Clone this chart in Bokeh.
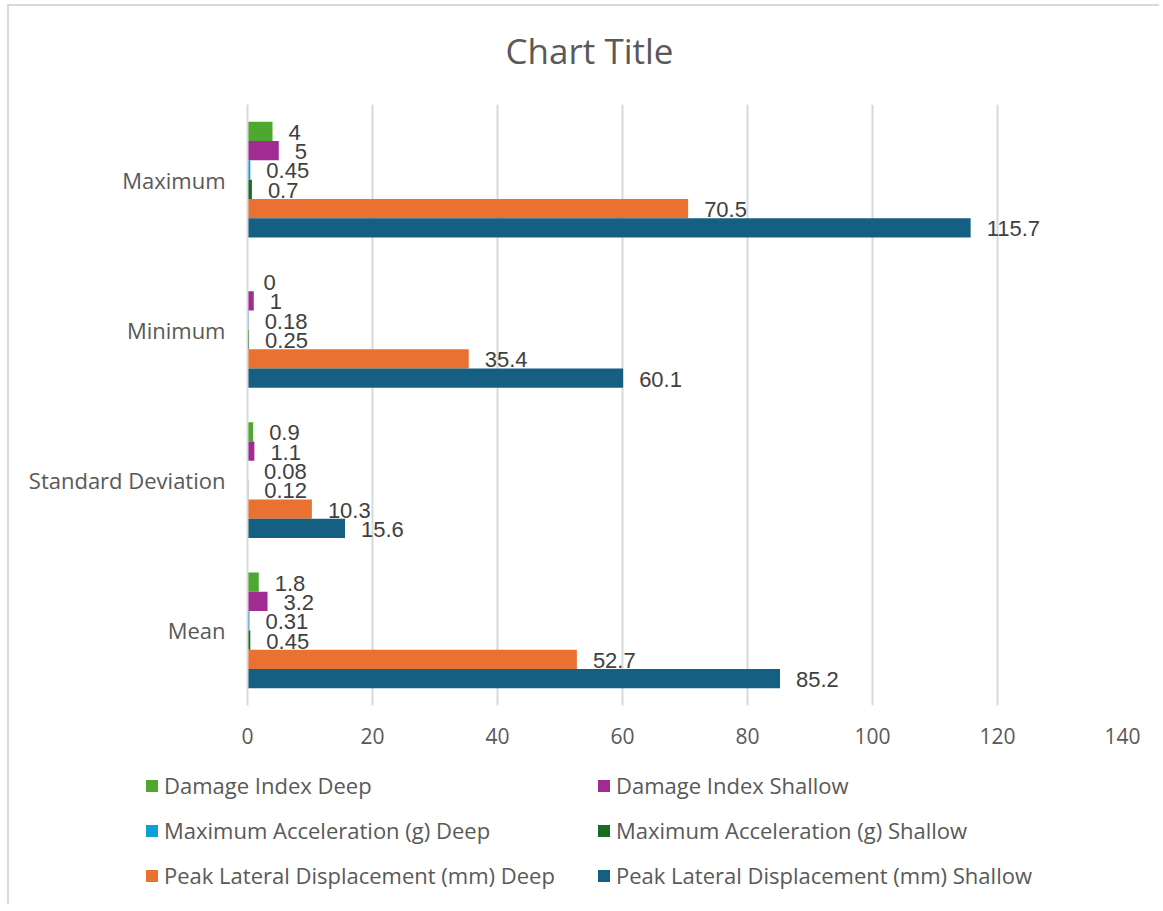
from bokeh.plotting import figure
from bokeh.layouts import column
from bokeh.models import Range1d, FixedTicker, Legend, LegendItem, Label, ColumnDataSource
from bokeh.core.properties import value
from bokeh.embed import file_html
from bokeh.resources import INLINE

categories = ["Mean", "Standard Deviation", "Minimum", "Maximum"]
series_names = [
    "Damage Index Deep",
    "Damage Index Shallow",
    "Maximum Acceleration (g) Deep",
    "Maximum Acceleration (g) Shallow",
    "Peak Lateral Displacement (mm) Deep",
    "Peak Lateral Displacement (mm) Shallow",
]
damage_deep = [1.8, 0.9, 0, 4]
damage_shallow = [3.2, 1.1, 1, 5]
accel_deep = [0.31, 0.08, 0.18, 0.45]
accel_shallow = [0.45, 0.12, 0.25, 0.7]
disp_deep = [52.7, 10.3, 35.4, 70.5]
disp_shallow = [85.2, 15.6, 60.1, 115.7]
x_ticks = [0, 20, 40, 60, 80, 100, 120, 140]
title_text = "Chart Title"

series_values = [damage_deep, damage_shallow, accel_deep, accel_shallow, disp_deep, disp_shallow]
colors = ["#4EA72E", "#A02B93", "#0F9ED5", "#196B24", "#E97132", "#156082"]

AX_FONT = "Open Sans"
TXT = "#595959"
W = 1150


def blank(fig):
    fig.frame_align = False
    fig.outline_line_color = None
    fig.axis.visible = False
    fig.grid.visible = False
    fig.border_fill_color = "white"
    fig.background_fill_color = "white"


# title strip
tf = figure(width=W, height=90, output_backend="svg", toolbar_location=None,
            x_range=Range1d(0, W), y_range=Range1d(0, 90), min_border=0)
blank(tf)
tf.add_layout(Label(x=580, y=46, text=title_text, text_align="center", text_baseline="middle",
                    text_font=AX_FONT, text_font_size="35px", text_color=TXT))

# main chart
p = figure(width=W, height=664, output_backend="svg", toolbar_location=None,
           x_range=Range1d(0, 140), y_range=Range1d(0, 4),
           min_border_left=238, min_border_right=37, min_border_top=8, min_border_bottom=55)
p.outline_line_color = None

n = len(series_values)
h = 0.77 / n
for j, (vals, col) in enumerate(zip(series_values, colors)):
    ys = [i + 0.5 + (2.5 - j) * h for i in range(len(categories))]
    src = ColumnDataSource(dict(y=ys, v=vals, lab=[f"{v:g}" for v in vals]))
    p.hbar(y="y", left=0, right="v", height=h, color=col, line_color=None, source=src)
    p.text(x="v", y="y", text="lab", source=src, x_offset=16, y_offset=1,
           text_baseline="middle", text_align="left",
           text_font=value("Liberation Sans"), text_font_size="22px", text_color="#404040")

p.xaxis.ticker = FixedTicker(ticks=x_ticks)
p.yaxis.ticker = FixedTicker(ticks=[i + 0.5 for i in range(len(categories))])
p.yaxis.major_label_overrides = {i + 0.5: c for i, c in enumerate(categories)}
for ax in (p.xaxis[0], p.yaxis[0]):
    ax.major_tick_line_color = None
    ax.minor_tick_line_color = None
    ax.major_label_text_font = AX_FONT
    ax.major_label_text_color = TXT
ax = p.xaxis[0]
ax.axis_line_color = None
ax.major_label_standoff = 16
ax.major_label_text_font_size = "21px"
ay = p.yaxis[0]
ay.axis_line_color = "#d9d9d9"
ay.axis_line_width = 2
ay.major_label_standoff = 16
ay.major_label_text_font_size = "22px"

p.xgrid.grid_line_color = "#d9d9d9"
p.xgrid.grid_line_width = 2
p.ygrid.grid_line_color = None

# legend strip (proxy glyphs lie outside its visible range)
lg = figure(width=W, height=144, output_backend="svg", toolbar_location=None,
            x_range=Range1d(0, 1), y_range=Range1d(0, 1), min_border=0)
blank(lg)
proxies = []
for nm, col in zip(series_names, colors):
    r = lg.hbar(y=[-10], left=[0], right=[1], height=1, color=col, line_color=None)
    proxies.append(LegendItem(label=nm, renderers=[r]))
# Bokeh fills legend columns first: reorder so rows read Deep | Shallow
order = [0, 2, 4, 1, 3, 5]
items = [proxies[k] for k in order]
legend = Legend(items=items, ncols=2, location=(135, 14),
                glyph_width=15, glyph_height=15, label_standoff=5, spacing=15,
                padding=0, margin=0, border_line_color=None, background_fill_alpha=0,
                label_text_font=AX_FONT, label_text_font_size="22px", label_text_color=TXT,
                label_height=25, label_width=417)
lg.add_layout(legend)

layout = column(tf, p, lg, spacing=0)
layout.styles = {"border-left": "2px solid #d9d9d9", "border-top": "2px solid #d9d9d9",
                 "margin-left": "7px", "margin-top": "4px"}

open("out.html", "w").write(file_html(layout, INLINE))
